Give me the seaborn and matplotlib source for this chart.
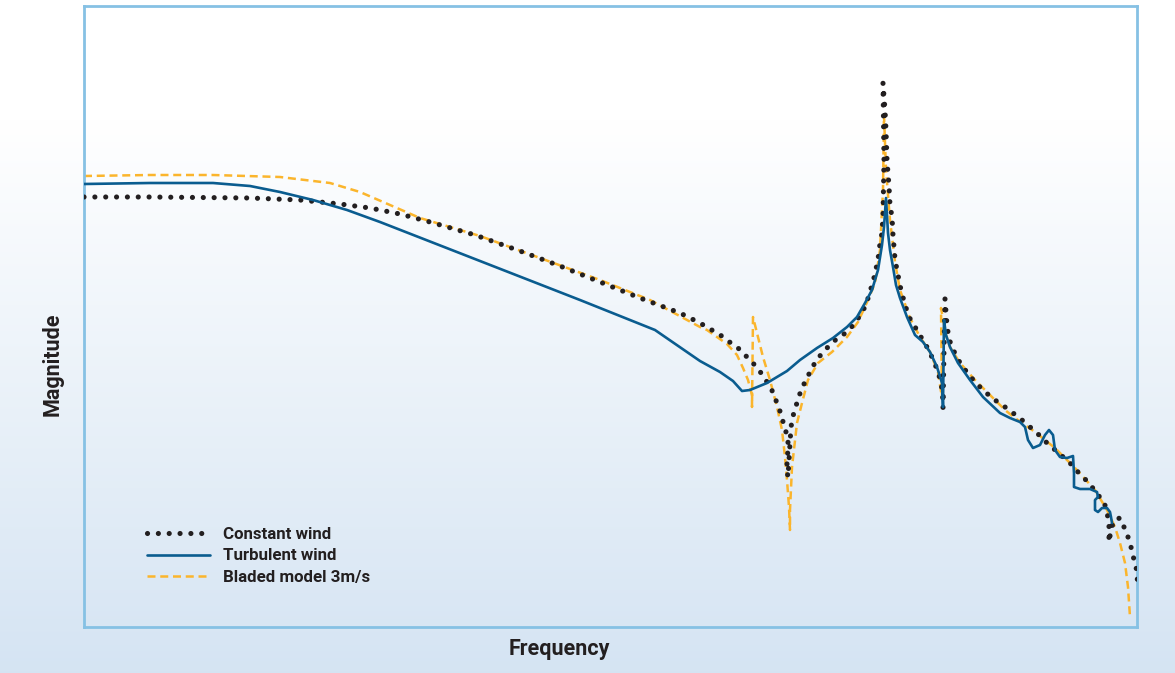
import numpy as np
import pandas as pd
import matplotlib
matplotlib.use("Agg")
import matplotlib.pyplot as plt
import seaborn as sns

# ---- data (frequency index, magnitude in arbitrary units) ----
constant_wind = [
    (84, 430), (150, 430), (250, 429), (300, 427), (340, 423), (370, 419), (400, 413),
    (430, 405), (475, 392), (520, 376), (560, 361), (600, 345), (640, 329), (680, 314),
    (700, 304), (710, 298), (719, 293), (728, 286), (737, 280), (744, 273), (752, 265),
    (759, 257), (765, 248), (771, 239), (775, 229), (779, 219), (782, 209), (785, 198),
    (788, 189), (788, 177), (787, 167), (787, 156), (788, 150), (791, 200), (793, 211),
    (796, 221), (799, 231), (803, 241), (808, 251), (813, 261), (819, 270), (826, 278),
    (834, 286), (840, 290), (848, 296), (855, 304), (861, 313), (866, 322), (869, 332),
    (872, 342), (875, 353), (877, 363), (879, 374), (880, 384), (882, 394), (883, 412),
    (884, 467), (883, 544), (885, 517), (886, 497), (887, 467), (889, 441), (890, 422),
    (892, 410), (893, 392), (895, 368), (897, 357), (899, 347), (901, 337), (904, 326),
    (907, 316), (911, 306), (919, 294), (923, 286), (929, 277), (933, 267), (937, 258),
    (940, 248), (942, 238), (943, 227), (943, 219), (944, 277), (945, 328), (947, 302),
    (949, 288), (953, 278), (957, 269), (963, 260), (969, 252), (976, 244), (983, 237),
    (991, 230), (999, 224), (1005, 220), (1013, 214), (1022, 207), (1030, 200),
    (1038, 193), (1046, 185), (1054, 178), (1062, 171), (1070, 164), (1077, 156),
    (1085, 148), (1092, 140), (1098, 132), (1104, 125), (1107, 115), (1109, 102),
    (1109, 85), (1111, 97), (1114, 107), (1120, 109), (1124, 100), (1128, 90),
    (1131, 80), (1133, 71), (1136, 61), (1137, 51), (1138, 41),
]

turbulent_wind = [
    (84, 443), (150, 444), (213, 444), (250, 441), (280, 435), (313, 427), (347, 417),
    (380, 405), (480, 366), (580, 327), (655, 297), (700, 266), (720, 255),
    (733, 246), (742, 236), (750, 237), (767, 244), (787, 256), (800, 267),
    (817, 279), (833, 289), (847, 300), (857, 310), (865, 324), (872, 337), (878, 357),
    (882, 382), (884, 400), (886, 429), (888, 394), (890, 377), (893, 360), (896, 342),
    (900, 329), (907, 310), (915, 292), (923, 285), (930, 275), (937, 260), (942, 244),
    (943, 220), (944, 307), (946, 292), (950, 280), (958, 264), (970, 247), (983, 230),
    (1000, 214), (1010, 209), (1020, 205), (1025, 200), (1028, 187), (1033, 179),
    (1040, 182), (1045, 192), (1049, 197), (1053, 192), (1055, 177), (1060, 170),
    (1067, 169), (1073, 171), (1074, 154), (1074, 140), (1080, 138), (1090, 138),
    (1097, 135), (1098, 130), (1095, 127), (1095, 117), (1098, 115), (1102, 119),
    (1107, 119), (1110, 115), (1111, 110), (1112, 104),
]

bladed_model = [
    (84, 451), (150, 452), (213, 452), (280, 450), (330, 444), (360, 435), (390, 422),
    (420, 409), (480, 391), (540, 369), (600, 347), (650, 327), (700, 300), (707, 297),
    (717, 290), (727, 283), (737, 272), (743, 259), (748, 247), (752, 232), (752, 220),
    (753, 310), (758, 290), (763, 270), (770, 247), (777, 220), (782, 197), (785, 170),
    (787, 147), (789, 120), (790, 97), (790, 117), (792, 160), (797, 204), (802, 224),
    (808, 247), (818, 264), (832, 275), (847, 290), (858, 305), (868, 327), (875, 344),
    (880, 377), (883, 437), (884, 512), (886, 457), (890, 407), (895, 365), (900, 337),
    (910, 309), (920, 290), (930, 275), (938, 255), (942, 229), (941, 319), (946, 292),
    (950, 280), (960, 264), (975, 247), (990, 232), (1005, 217), (1015, 209),
    (1025, 202), (1035, 195), (1045, 187), (1055, 179), (1065, 169), (1075, 159),
    (1085, 148), (1095, 137), (1107, 117), (1115, 100), (1120, 84), (1125, 64),
    (1128, 40), (1130, 10),
]

series_names = ["Constant wind", "Turbulent wind", "Bladed model 3m/s"]
series_data = [constant_wind, turbulent_wind, bladed_model]

# ---- build long frame ----
frames = []
for name, pts in zip(series_names, series_data):
    arr = np.array(pts, dtype=float)
    frames.append(pd.DataFrame({"Frequency": arr[:, 0], "Magnitude": arr[:, 1],
                                "series": name}))
df = pd.concat(frames, ignore_index=True)

sns.set_style("white")
plt.rcParams["font.family"] = ["Roboto", "DejaVu Sans"]

W, H = 1175, 673
fig = plt.figure(figsize=(W / 100, H / 100), dpi=100)

# background gradient (white at top to light blue at bottom)
bg = fig.add_axes([0, 0, 1, 1], zorder=-10)
t = np.linspace(0, 1, 400)
top = np.array([1.0, 1.0, 1.0])
bottom = np.array([0.835, 0.894, 0.952])
frac = np.clip((t - 0.18) / 0.82, 0, 1)
grad = top[None, :] * (1 - frac[:, None]) + bottom[None, :] * frac[:, None]
bg.imshow(grad[:, None, :], aspect="auto", extent=[0, 1, 0, 1])
bg.axis("off")

left, right, top_px, bot_px = 84, 1137, 6, 627
ax = fig.add_axes([left / W, (H - bot_px) / H, (right - left) / W, (bot_px - top_px) / H])
ax.patch.set_alpha(0)

colors = {"Constant wind": "#231f20", "Turbulent wind": "#0a5c8f", "Bladed model 3m/s": "#fbb52c"}
zord = {"Constant wind": 3, "Turbulent wind": 4, "Bladed model 3m/s": 2}

for name in ["Bladed model 3m/s", "Constant wind", "Turbulent wind"]:
    sub = df[df["series"] == name]
    sns.lineplot(data=sub, x="Frequency", y="Magnitude", ax=ax, sort=False,
                 estimator=None, color=colors[name], label=name)
    ln = ax.lines[-1]
    ln.set_zorder(zord[name])
    if name == "Constant wind":
        ln.set_linewidth(3.7)
        ln.set_linestyle((0, (0.01, 2.1)))
        ln.set_dash_capstyle("round")
    elif name == "Turbulent wind":
        ln.set_linewidth(1.9)
        ln.set_solid_capstyle("round")
        ln.set_solid_joinstyle("round")
    else:
        ln.set_linewidth(1.8)
        ln.set_linestyle((0, (3.2, 1.9)))
        ln.set_dash_capstyle("butt")

ax.set_xlim(left, right)
ax.set_ylim(0, bot_px - top_px)
ax.set_xticks([])
ax.set_yticks([])
for s in ax.spines.values():
    s.set_visible(True)
    s.set_color("#86c1e4")
    s.set_linewidth(2.0)

ax.set_xlabel("Frequency", fontsize=15.5, fontweight="bold", color="#231f20")
ax.set_ylabel("Magnitude", fontsize=15.5, fontweight="bold", color="#231f20")
ax.xaxis.set_label_coords((559 - left) / (right - left), -(638 - bot_px) / (bot_px - top_px))
ax.yaxis.set_label_coords(-(left - 64) / (right - left), (bot_px - 364) / (bot_px - top_px))

handles, labels = ax.get_legend_handles_labels()
order = [labels.index(n) for n in series_names]
leg = ax.legend([handles[i] for i in order], [labels[i] for i in order],
                loc="center left", bbox_to_anchor=((147 - left) / (right - left), (bot_px - 556) / (bot_px - top_px)),
                frameon=False, fontsize=12.2, handlelength=3.7, handletextpad=0.8,
                labelspacing=0.4, borderpad=0, borderaxespad=0)
for txt in leg.get_texts():
    txt.set_fontweight("bold")
    txt.set_color("#231f20")

fig.savefig("out.png", dpi=100)
